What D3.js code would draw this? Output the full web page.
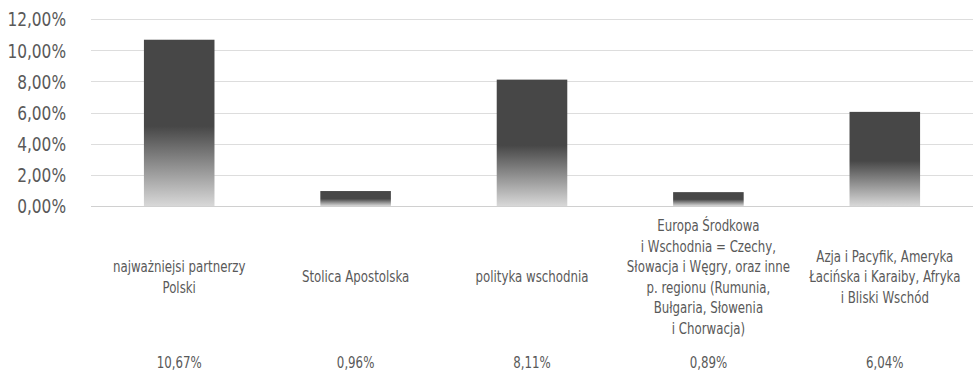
<!DOCTYPE html>
<html>
<head>
<meta charset="utf-8">
<script src="https://cdn.jsdelivr.net/npm/d3@7/dist/d3.min.js"></script>
<style>
  html, body { margin: 0; padding: 0; background: #fff; }
  svg { display: block; }
  text { font-family: "DejaVu Sans Condensed", "DejaVu Sans", sans-serif; fill: #595959; }
</style>
</head>
<body>
<svg id="chart" width="973" height="372"></svg>
<script>
// Category labels (each entry is the list of wrapped lines)
const categories = [
  ["najważniejsi partnerzy", "Polski"],
  ["Stolica Apostolska"],
  ["polityka wschodnia"],
  ["Europa Środkowa", "i Wschodnia = Czechy,", "Słowacja i Węgry, oraz inne", "p. regionu (Rumunia,", "Bułgaria, Słowenia", "i Chorwacja)"],
  ["Azja i Pacyfik, Ameryka", "Łacińska i Karaiby, Afryka", "i Bliski Wschód"]
];
// Share of each category (percent)
const values = [10.67, 0.96, 8.11, 0.89, 6.04];
// Y axis ticks (percent)
const yTicks = [0, 2, 4, 6, 8, 10, 12];

const fmt = v => v.toFixed(2).replace(".", ",") + "%";

const svg = d3.select("#chart");
const W = 973;
const plotLeft = 91;

const x = d3.scaleBand()
  .domain(d3.range(categories.length))
  .range([plotLeft, W])
  .paddingInner(0.6)
  .paddingOuter(0.3);

const y = d3.scaleLinear()
  .domain([0, 12])
  .range([206, 19]);

// Narrow the condensed face a little further horizontally
const squeezeAxis = 0.9;
const squeezeText = 0.875;

// Vertical gradient: solid dark upper half, fading to light gray at the base
const defs = svg.append("defs");
const grad = defs.append("linearGradient")
  .attr("id", "barGrad")
  .attr("x1", 0).attr("y1", 0).attr("x2", 0).attr("y2", 1);
grad.append("stop").attr("offset", 0).attr("stop-color", "#474747");
grad.append("stop").attr("offset", 0.52).attr("stop-color", "#474747");
grad.append("stop").attr("offset", 1).attr("stop-color", "#d8d8d8");

// Gridlines
svg.append("g")
  .selectAll("line")
  .data(yTicks)
  .join("line")
  .attr("x1", plotLeft)
  .attr("x2", W)
  .attr("y1", d => Math.round(y(d)) + 0.5)
  .attr("y2", d => Math.round(y(d)) + 0.5)
  .attr("stroke", d => d === 0 ? "#d0d0d0" : "#dddddd")
  .attr("stroke-width", 1);

// Y axis labels
const yAxis = d3.axisLeft(y)
  .tickValues(yTicks)
  .tickFormat(fmt)
  .tickSize(0)
  .tickPadding(0);
const gy = svg.append("g")
  .attr("transform", "translate(66,0)")
  .call(yAxis);
gy.select(".domain").remove();
gy.selectAll("text")
  .attr("x", 0)
  .attr("dy", "0.36em")
  .attr("transform", `scale(${squeezeAxis},1)`)
  .style("font-size", "19px")
  .style("fill", "#595959")
  .style("font-family", null);
gy.attr("font-family", null).attr("font-size", null);

// Bars
svg.append("g")
  .selectAll("rect")
  .data(values)
  .join("rect")
  .attr("x", (d, i) => x(i))
  .attr("width", x.bandwidth())
  .attr("y", d => y(d))
  .attr("height", d => y(0) - y(d))
  .attr("fill", "url(#barGrad)");

// Category labels, vertically centred in the label band
const lineH = 20.5;
const labelMid = 277;
const cat = svg.append("g")
  .selectAll("text")
  .data(categories)
  .join("text")
  .attr("text-anchor", "middle")
  .attr("transform", (d, i) => `translate(${x(i) + x.bandwidth() / 2},0) scale(${squeezeText},1)`)
  .style("font-size", "15px");
cat.each(function (lines) {
  const top = labelMid - (lines.length - 1) * lineH / 2;
  d3.select(this).selectAll("tspan")
    .data(lines)
    .join("tspan")
    .attr("x", 0)
    .attr("y", (d, j) => top + j * lineH)
    .attr("dy", "0.36em")
    .text(d => d);
});

// Value row under the categories
svg.append("g")
  .selectAll("text")
  .data(values)
  .join("text")
  .attr("transform", (d, i) => `translate(${x(i) + x.bandwidth() / 2},363) scale(${squeezeText},1)`)
  .attr("dy", "0.36em")
  .attr("text-anchor", "middle")
  .style("font-size", "15px")
  .text(fmt);
</script>
</body>
</html>
